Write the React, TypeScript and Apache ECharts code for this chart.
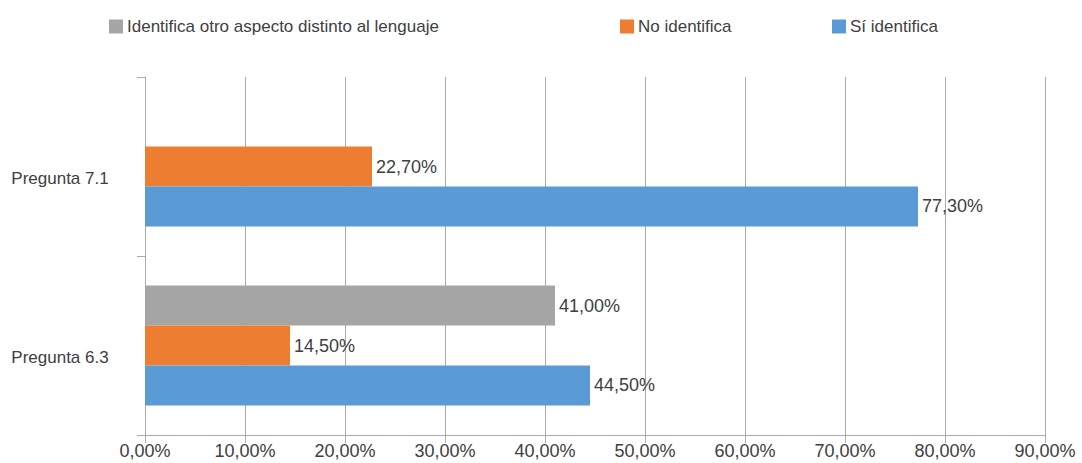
import React, { useEffect, useRef } from "react";
import * as echarts from "echarts";

const categories = ["Pregunta 6.3", "Pregunta 7.1"];
const seriesNames = ["Identifica otro aspecto distinto al lenguaje", "No identifica", "Sí identifica"];
const otroValues: (number | null)[] = [41.0, null];
const noValues = [14.5, 22.7];
const siValues = [44.5, 77.3];
const xTicks = [0, 10, 20, 30, 40, 50, 60, 70, 80, 90];
const colors = ["#A5A5A5", "#ED7D31", "#5B9BD5"];

const FONT = "'Liberation Sans', Arial, sans-serif";
const TEXT = "#404040";
const GRID = "#ABABAB";

const fmt = (v: number) => v.toFixed(2).replace(".", ",") + "%";

export default function App() {
  const ref = useRef<HTMLDivElement>(null);
  useEffect(() => {
    document.body.style.margin = "0";
    const chart = echarts.init(ref.current!, undefined, { renderer: "svg" });
    const legendBase = {
      top: 18,
      itemWidth: 14,
      itemHeight: 14,
      itemGap: 4,
      icon: "rect",
      padding: 0,
      textStyle: { fontFamily: FONT, fontSize: 17, color: TEXT, padding: [0, 0, 0, -1] },
      selectedMode: false,
    };
    const label = {
      show: true,
      position: "right",
      distance: 4,
      fontFamily: FONT,
      fontSize: 18,
      color: TEXT,
      formatter: (p: any) => fmt(p.value),
    };
    const dataSets = [otroValues, noValues, siValues];
    chart.setOption({
      animation: false,
      color: colors,
      legend: [
        { ...legendBase, left: 109, data: [seriesNames[0]] },
        { ...legendBase, left: 620, data: [seriesNames[1]] },
        { ...legendBase, left: 832, data: [seriesNames[2]] },
      ],
      grid: { left: 145, right: 37, top: 77, bottom: 28, containLabel: false },
      xAxis: {
        type: "value",
        min: xTicks[0],
        max: xTicks[xTicks.length - 1],
        interval: 10,
        axisLine: { show: true, lineStyle: { color: GRID } },
        axisTick: { show: true, length: 8, lineStyle: { color: GRID } },
        splitLine: { show: true, lineStyle: { color: GRID, width: 1 } },
        axisLabel: {
          fontFamily: FONT,
          fontSize: 18,
          color: TEXT,
          margin: 7,
          formatter: (v: number) => fmt(v),
        },
      },
      yAxis: {
        type: "category",
        data: categories,
        axisLine: { show: true, lineStyle: { color: GRID } },
        axisTick: { show: true, length: 8, lineStyle: { color: GRID } },
        axisLabel: {
          fontFamily: FONT,
          fontSize: 17,
          color: TEXT,
          align: "center",
          verticalAlign: "top",
          lineHeight: 24,
          margin: 85,
        },
      },
      series: dataSets.map((d, i) => ({
        name: seriesNames[i],
        type: "bar",
        data: d,
        barGap: "0%",
        barCategoryGap: "33%",
        label,
        itemStyle: { color: colors[i] },
      })),
    });
    return () => chart.dispose();
  }, []);
  return <div ref={ref} style={{ width: 1082, height: 463 }} />;
}
